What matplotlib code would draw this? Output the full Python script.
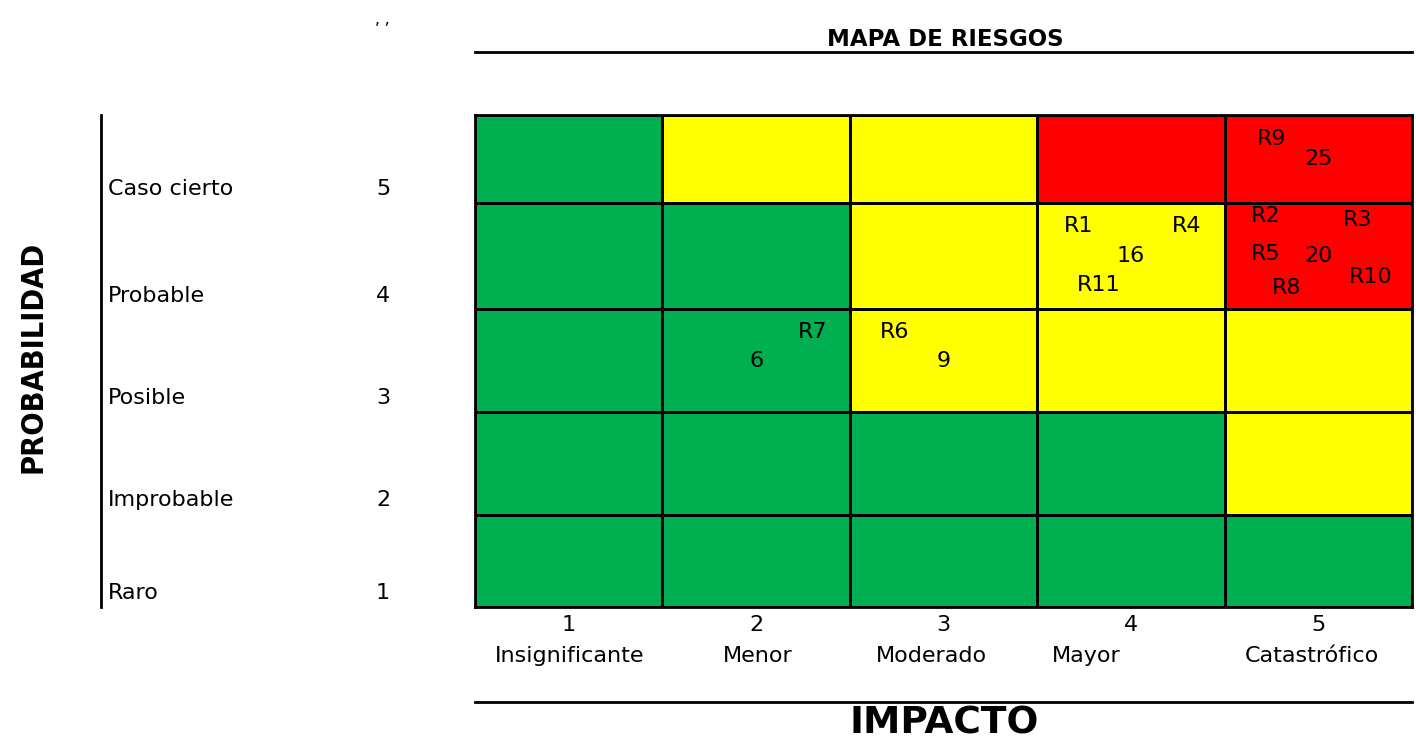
import matplotlib
matplotlib.use("Agg")
import matplotlib.pyplot as plt
import numpy as np
from matplotlib.colors import ListedColormap

# ---- data ----
impact_levels = [1, 2, 3, 4, 5]
impact_names = ["Insignificante", "Menor", "Moderado", "Mayor", "Catastrófico"]
prob_levels = [1, 2, 3, 4, 5]
prob_names = ["Raro", "Improbable", "Posible", "Probable", "Caso cierto"]

# zone per cell (rows: probability 1..5, cols: impact 1..5); 0 low, 1 medium, 2 high
zones = [
    [0, 0, 0, 0, 0],
    [0, 0, 0, 0, 1],
    [0, 0, 1, 1, 1],
    [0, 0, 1, 1, 2],
    [0, 1, 1, 2, 2],
]

risk_ids = ["R1", "R2", "R3", "R4", "R5", "R6", "R7", "R8", "R9", "R10", "R11"]
risk_impact = [4, 5, 5, 4, 5, 3, 2, 5, 5, 5, 4]
risk_prob = [4, 4, 4, 4, 4, 3, 3, 4, 5, 4, 4]

zone_colors = ["#00B050", "#FFFF00", "#FF0000"]

# ---- layout ----
W, H = 1416, 744
fig = plt.figure(figsize=(W / 100, H / 100), dpi=100)


def fx(px):
    return px / W


def fy(py):
    return 1 - py / H


grid_l, grid_r, grid_t, grid_b = 475, 1412, 115, 607
ax = fig.add_axes([fx(grid_l), fy(grid_b), fx(grid_r - grid_l), (grid_b - grid_t) / H])

# row boundaries (probability axis, bottom to top) in axis units
row_edges = np.array([0, 92, 195, 298, 404, 492])
col_edges = np.arange(0.5, 6.0, 1.0)

ax.pcolormesh(col_edges, row_edges, np.array(zones), cmap=ListedColormap(zone_colors),
              vmin=-0.5, vmax=2.5, edgecolor="black", linewidth=2)
ax.set_xlim(col_edges[0], col_edges[-1])
ax.set_ylim(row_edges[0], row_edges[-1])
ax.set_xticks([])
ax.set_yticks([])
for s in ax.spines.values():
    s.set_linewidth(2)

row_mid = (row_edges[:-1] + row_edges[1:]) / 2
row_h = np.diff(row_edges)

cell_fs = 16

# score at each occupied cell centre
occupied = sorted(set(zip(risk_impact, risk_prob)))
for imp, pr in occupied:
    ax.text(imp, row_mid[pr - 1], str(imp * pr), ha="center", va="center",
            fontsize=cell_fs, color="black")

# label offsets within a cell (fraction of cell width, fraction of cell height)
label_offsets = {
    "R1": (-0.28, 0.28), "R4": (0.30, 0.28), "R11": (-0.17, -0.27),
    "R2": (-0.28, 0.38), "R3": (0.21, 0.34), "R5": (-0.28, 0.02),
    "R10": (0.28, -0.20), "R8": (-0.17, -0.30),
    "R9": (-0.25, 0.23), "R7": (0.30, 0.28), "R6": (-0.26, 0.28),
}
for rid, imp, pr in zip(risk_ids, risk_impact, risk_prob):
    dx, dy = label_offsets[rid]
    ax.text(imp + dx, row_mid[pr - 1] + dy * row_h[pr - 1], rid, ha="center",
            va="center", fontsize=cell_fs, color="black")

# ---- surrounding texts ----
fig.text(fx(945), fy(39), "MAPA DE RIESGOS", ha="center", va="center",
         fontsize=16.5, fontweight="bold")
fig.add_artist(plt.Line2D([fx(475), fx(1412)], [fy(52), fy(52)], color="black", lw=2))

fig.text(fx(382), fy(20), ", ,", ha="center", va="center", fontsize=11)

# probability scale on the left
fig.add_artist(plt.Line2D([fx(101), fx(101)], [fy(115), fy(607)], color="black", lw=2))
prob_label_y = [593, 500, 398, 296, 189]
for name, lvl, py in zip(prob_names, prob_levels, prob_label_y):
    fig.text(fx(108), fy(py), name, ha="left", va="center", fontsize=16)
    fig.text(fx(383), fy(py), str(lvl), ha="center", va="center", fontsize=16)

fig.text(fx(33), fy(357), "PROBABILIDAD", ha="center", va="center", rotation=90,
         fontsize=22, fontweight="bold", fontstretch="condensed")

# impact scale at the bottom
col_mid_px = grid_l + (np.array(impact_levels) - 0.5) * (grid_r - grid_l) / 5
name_x = [570, 758, 931, 1086, 1312]
for i, (lvl, name) in enumerate(zip(impact_levels, impact_names)):
    fig.text(fx(col_mid_px[i]), fy(625), str(lvl), ha="center", va="center", fontsize=16)
    fig.text(fx(name_x[i]), fy(656), name, ha="center", va="center", fontsize=16)

fig.add_artist(plt.Line2D([fx(475), fx(1412)], [fy(702), fy(702)], color="black", lw=2))
fig.text(fx(944), fy(724), "IMPACTO", ha="center", va="center", fontsize=27,
         fontweight="bold")

fig.savefig("out.png", dpi=100)
